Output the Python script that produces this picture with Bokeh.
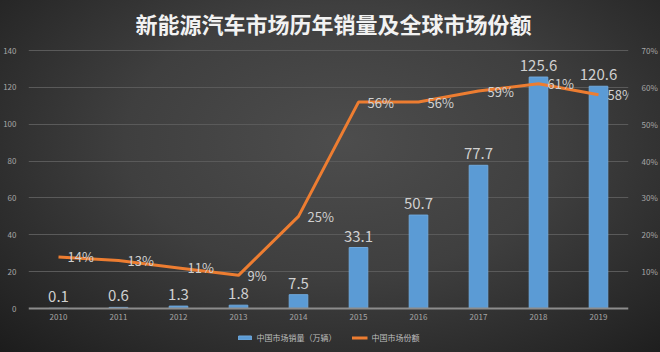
from bokeh.plotting import figure
from bokeh.models import (ColumnDataSource, FactorRange, Range1d, LinearAxis,
                          FixedTicker, PrintfTickFormatter, Legend, LegendItem, Span, Label)
from bokeh.core.properties import value
from bokeh.embed import file_html
from bokeh.resources import INLINE

TITLE = "新能源汽车市场历年销量及全球市场份额"
years = ["2010", "2011", "2012", "2013", "2014", "2015", "2016", "2017", "2018", "2019"]
sales = [0.1, 0.6, 1.3, 1.8, 7.5, 33.1, 50.7, 77.7, 125.6, 120.6]
share = [14, 13, 11, 9, 25, 56, 56, 59, 61, 58]
left_ticks = [0, 20, 40, 60, 80, 100, 120, 140]
right_ticks = [10, 20, 30, 40, 50, 60, 70]

FONT = "Noto Sans CJK SC"

# layout geometry (pixels): value axis spans 258 px, room kept above and below it
W, H = 660, 352
AXIS_PX = 258
BELOW_PX = 44
TOP_PX = 50
SALES_MAX = 140
SHARE_MAX = 70

src = ColumnDataSource(dict(
    year=years, sales=sales, share=share,
    zero=[0] * len(years),
    sales_lbl=[f"{v}" for v in sales],
    share_lbl=[f"{v}%" for v in share],
))

p = figure(width=W, height=H, x_range=FactorRange(*years),
           y_range=Range1d(-BELOW_PX * SALES_MAX / AXIS_PX, SALES_MAX + TOP_PX * SALES_MAX / AXIS_PX),
           output_backend="svg", toolbar_location=None,
           min_border_left=25, min_border_right=25, min_border_top=0, min_border_bottom=0)
p.extra_y_ranges = {"pct": Range1d(-BELOW_PX * SHARE_MAX / AXIS_PX, SHARE_MAX + TOP_PX * SHARE_MAX / AXIS_PX)}

p.styles = {"background": "radial-gradient(ellipse at 52% 40%, #4d4d4d 0%, #3f3f3f 45%, #262626 85%, #1c1c1c 100%)"}
p.background_fill_color = None
p.border_fill_color = None
p.outline_line_color = None

p.add_layout(Label(x=(W - 50) / 2, y=H - 22, x_units="screen", y_units="screen", text=TITLE,
                   text_align="center", text_baseline="middle", text_font=FONT,
                   text_font_size="22px", text_font_style="bold", text_color="#f2f2f2"))

p.xaxis.visible = False

# left axis
p.yaxis.ticker = FixedTicker(ticks=left_ticks)
p.yaxis.axis_line_color = None
p.yaxis.major_tick_line_color = None
p.yaxis.minor_tick_line_color = None
p.yaxis.major_label_text_color = "#a6a6a6"
p.yaxis.major_label_text_font = FONT
p.yaxis.major_label_text_font_size = "8px"
p.yaxis.major_label_standoff = 6

ra = LinearAxis(y_range_name="pct", ticker=FixedTicker(ticks=right_ticks),
                formatter=PrintfTickFormatter(format="%d%%"))
ra.axis_line_color = None
ra.major_tick_line_color = None
ra.minor_tick_line_color = None
ra.major_label_text_color = "#a6a6a6"
ra.major_label_text_font = FONT
ra.major_label_text_font_size = "8px"
ra.major_label_standoff = 7
p.add_layout(ra, "right")

p.xgrid.grid_line_color = None
p.ygrid.ticker = FixedTicker(ticks=left_ticks[1:])
p.ygrid.grid_line_color = "#5a5a5a"
p.ygrid.grid_line_width = 1

# category axis line and labels
p.add_layout(Span(location=0, dimension="width", line_color="#8c8c8c", line_width=2))
p.text(x="year", y="zero", text="year", source=src,
       text_align="center", text_baseline="top", y_offset=5,
       text_color="#a6a6a6", text_font=value(FONT), text_font_size="8px")

bars = p.vbar(x="year", top="sales", width=0.31, source=src,
              fill_color="#5b9bd5", line_color="#6fa8dc", line_width=1)
line = p.line(x="year", y="share", source=src, y_range_name="pct",
              line_color="#ed7d31", line_width=3)

p.text(x="year", y="sales", text="sales_lbl", source=src,
       text_align="center", text_baseline="bottom", y_offset=-6,
       text_color="#d0d0d0", text_font=value(FONT), text_font_size="15px")
p.text(x="year", y="share", text="share_lbl", source=src, y_range_name="pct",
       text_align="left", text_baseline="middle", x_offset=9,
       text_color="#d0d0d0", text_font=value(FONT), text_font_size="13px")

legend = Legend(items=[LegendItem(label="中国市场销量（万辆）", renderers=[bars]),
                       LegendItem(label="中国市场份额", renderers=[line])],
                location="bottom_center", orientation="horizontal",
                background_fill_alpha=0, border_line_color=None,
                padding=0, margin=9, spacing=15,
                glyph_width=16, glyph_height=5, label_height=12, label_standoff=4,
                label_text_color="#bfbfbf", label_text_font=FONT, label_text_font_size="8px")
p.add_layout(legend, "center")

open("out.html", "w").write(file_html(p, INLINE))
